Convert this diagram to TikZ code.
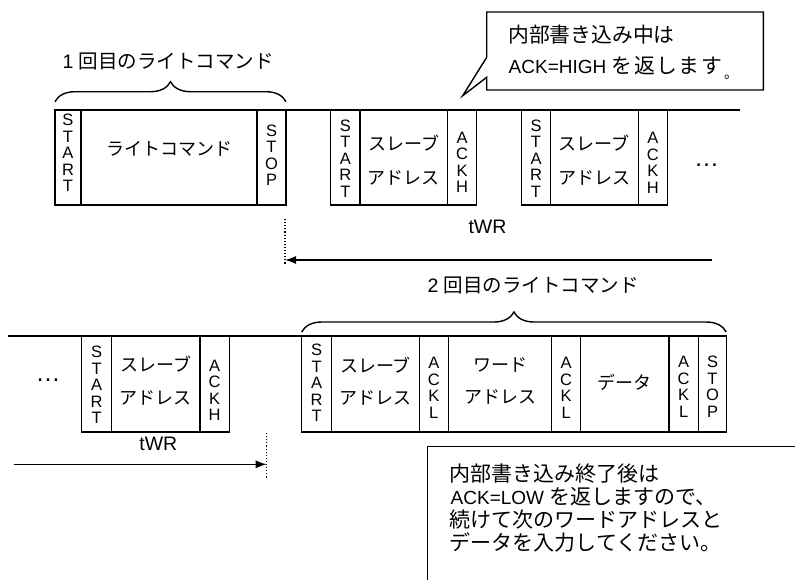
\documentclass[tikz,border=0pt]{standalone}
\usepackage{fontspec}
\setmainfont{Liberation Sans}
\newfontfamily\jp{Noto Sans CJK JP}
\usetikzlibrary{decorations.pathreplacing,arrows.meta}
\newcommand\myfs[2]{\fontsize{#1pt}{#2pt}\selectfont}
% name, x1, x2, y1, y2, text y, text style, text
\newcommand\tseg[8]{%
  \node[segbox, minimum width={(#3-#2)*1pt}, minimum height={(#5-#4)*1pt}] (#1) at ({(#2+#3)/2},{(#4+#5)/2}) {};
  \node[#7] (#1t) at ({(#2+#3)/2},#6) {#8};
}
\newcommand\jk{\kern1.6pt}
\begin{document}
\begin{tikzpicture}[x=1pt,y=-1pt,line width=1.4pt,
  segbox/.style={draw, inner sep=0pt, line width=1.4pt},
  vlat/.style={font=\myfs{16.5}{16.5}, align=center, inner sep=0pt},
  jtxt/.style={font=\jp\myfs{18}{34}, align=center, inner sep=0pt},
  jtxtb/.style={font=\jp\myfs{18}{32.5}, align=center, inner sep=0pt},
  lab/.style={font=\myfs{19.5}{20}, inner sep=0pt},
  cline/.style={anchor=base west, inner sep=0pt, font=\myfs{19}{20}},
  dotsty/.style={font=\myfs{25}{25}, anchor=base, inner sep=0pt},
  bracestyle/.style={decorate, decoration={brace, amplitude=20pt}, line width=1.4pt},
  tarrow/.style={-{Latex[length=11pt,width=8pt]}, line width=1.4pt},
  dotline/.style={dotted, line width=1.1pt}]
\useasboundingbox (0,0) rectangle (795,579);

% ---------- top row ----------
\coordinate (tl1) at (55,110);
\coordinate (tl2) at (740,110);
\draw (tl1) -- (tl2);
\tseg{t1s}{55}{81}{110}{205}{153}{vlat}{S\\T\\A\\R\\T}
\tseg{t1w}{81}{257}{110}{205}{149}{jtxt}{ライトコマンド}
\tseg{t1p}{257}{286}{110}{205}{155}{vlat}{S\\T\\O\\P}
\tseg{t2s}{330.7}{360}{110}{205}{158.7}{vlat}{S\\T\\A\\R\\T}
\tseg{t2a}{360}{447.7}{110}{205}{160.4}{jtxt}{スレーブ\\アドレス}
\tseg{t2k}{447.7}{476.7}{110}{205}{162.5}{vlat}{A\\C\\K\\H}
\tseg{t3s}{521.5}{550.5}{110}{205}{158.7}{vlat}{S\\T\\A\\R\\T}
\tseg{t3a}{550.5}{638.3}{110}{205}{160.4}{jtxt}{スレーブ\\アドレス}
\tseg{t3k}{638.3}{667.3}{110}{205}{163}{vlat}{A\\C\\K\\H}
\node[dotsty] (dots1) at (706.7,166) {…};

% brace and label 1
\coordinate (br1a) at (55,101.7);
\coordinate (br1b) at (286,101.7);
\draw[bracestyle] (br1a) -- (br1b);
\node[lab] (lab1) at (168.3,61.5) {1 {\jp 回目のライトコマンド}};

% tWR top
\node[lab] (twr1) at (487.5,227) {tWR};
\coordinate (d1a) at (285,219);
\coordinate (d1b) at (285,264);
\draw[dotline] (d1a) -- (d1b);
\coordinate (a1s) at (711.7,260);
\coordinate (a1e) at (285,260);
\draw[tarrow] (a1s) -- (a1e);

% callout top
\draw[fill=white] (486.7,12) -- (763.3,12) -- (763.3,90) -- (486.7,90) -- (486.7,77.3) -- (462.7,95.7) -- (486.7,57.3) -- cycle;
\node[cline, font=\jp\myfs{20.8}{21}] (c1a) at (507.5,42.5) {内部書き込み中は};
\node[cline] (c1b) at (508,73.3) {ACK=HIGH {\jp\myfs{20.8}{21}を\jk 返\jk し\jk ま\jk す}{\jp\myfs{14}{14}\kern2pt\raisebox{-5pt}{。}}};

% ---------- label 2 & brace ----------
\node[lab] (lab2) at (533.3,285) {2 {\jp 回目のライトコマンド}};
\coordinate (br2a) at (301.7,332);
\coordinate (br2b) at (726.2,332);
\draw[bracestyle] (br2a) -- (br2b);

% ---------- bottom row ----------
\coordinate (bl1) at (8,336);
\coordinate (bl2) at (727,336);
\draw (bl1) -- (bl2);
\node[dotsty] (dots2) at (48,381) {…};
\tseg{b1s}{81.7}{111.7}{336}{432}{385}{vlat}{S\\T\\A\\R\\T}
\tseg{b1a}{111.7}{200}{336}{432}{380.5}{jtxtb}{スレーブ\\アドレス}
\tseg{b1k}{200}{229.3}{336}{432}{390.5}{vlat}{A\\C\\K\\H}
\tseg{b2s}{301.7}{331.7}{336}{432}{383}{vlat}{S\\T\\A\\R\\T}
\tseg{b2a}{331.7}{419.3}{336}{432}{381}{jtxtb}{スレーブ\\アドレス}
\tseg{b2k}{419.3}{448.3}{336}{432}{388}{vlat}{A\\C\\K\\L}
\tseg{b2w}{448.3}{551.7}{336}{432}{381}{jtxtb}{ワード\\アドレス}
\tseg{b2l}{551.7}{580.7}{336}{432}{388}{vlat}{A\\C\\K\\L}
\tseg{b2d}{580.7}{669}{336}{432}{382.5}{jtxt}{データ}
\tseg{b2m}{669}{698.3}{336}{432}{387}{vlat}{A\\C\\K\\L}
\tseg{b2p}{698.3}{726.7}{336}{432}{386.5}{vlat}{S\\T\\O\\P}

% tWR bottom
\node[lab] (twr2) at (158.3,444) {tWR};
\coordinate (d2a) at (266.7,433);
\coordinate (d2b) at (266.7,478);
\draw[dotline] (d2a) -- (d2b);
\coordinate (a2s) at (14,464.3);
\coordinate (a2e) at (266.7,464.3);
\draw[tarrow] (a2s) -- (a2e);

% callout bottom (cut off by the picture edge)
\coordinate (cb1) at (796,446.7);
\coordinate (cb2) at (427.3,446.7);
\coordinate (cb3) at (427.3,580);
\draw (cb1) -- (cb2) -- (cb3);
\node[cline, font=\jp\myfs{21}{21}] (c2a) at (449,481) {内部書き込み終了後は};
\node[cline] (c2b) at (450,504) {ACK=LOW {\jp\myfs{21}{21}を返しますので、}};
\node[cline, font=\jp\myfs{21}{21}] (c2c) at (449,527) {続けて次のワードアドレスと};
\node[cline, font=\jp\myfs{21}{21}] (c2d) at (449,550) {データを入力してください。};
\end{tikzpicture}
\end{document}
